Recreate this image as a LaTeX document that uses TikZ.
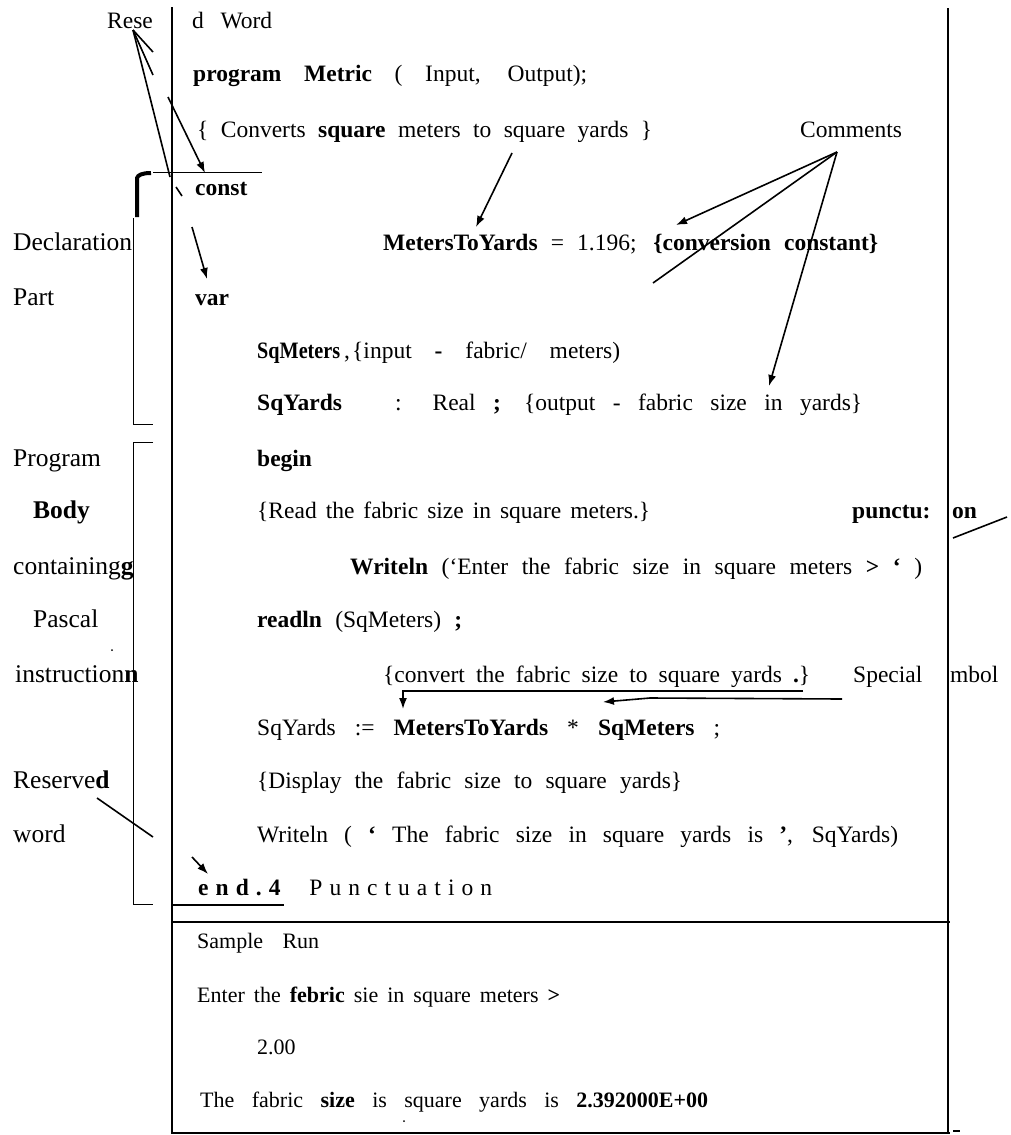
\documentclass[tikz,border=0pt]{standalone}
\usepackage{fontspec}
\setmainfont{Liberation Serif}
\usepackage{tikz}
\usetikzlibrary{positioning, calc, arrows.meta}
\newcommand{\spread}[2]{\makebox[#1pt][s]{#2}}
\tikzstyle{codeline} = [anchor=base west, inner sep=0pt, font=\fontsize{23.5}{28}\selectfont]
\tikzstyle{runline} = [anchor=base west, inner sep=0pt, font=\fontsize{22}{26}\selectfont]
\tikzstyle{sidelabel} = [anchor=base west, inner sep=0pt, font=\fontsize{25.5}{30}\selectfont]
\tikzstyle{arrow} = [line width=1.6pt, -{Latex[length=11pt, width=8pt]}]
\tikzstyle{pointer} = [line width=1.6pt]
\tikzstyle{frameline} = [line width=2.6pt]
\tikzstyle{ruleline} = [line width=1.6pt]
\tikzstyle{bracketline} = [line width=0.8pt]
\begin{document}
\begin{tikzpicture}[x=1pt, y=-1pt]
    \useasboundingbox (0,0) rectangle (1010,1135);

    % frame of the listing
    \draw[frameline] (172,7) -- (172,1134);
    \draw[frameline] (948,8) -- (948,1134);
    \draw[ruleline] (172,905) -- (284,905);
    \draw[ruleline] (172,922) -- (950,922);
    \draw[ruleline] (172,1133) -- (950,1133);
    \draw[line width=2.5pt] (953,1131) -- (960,1131);

    % brackets on the left
    \draw[line width=1pt] (153,172) -- (262,172);
    \draw[line width=4pt] (137,217) -- (137,178) .. controls (138,175) and (142,173) .. (151,173);
    \draw[bracketline] (133,218) -- (133,424) -- (153,424);
    \draw[bracketline] (153,442) -- (133,442) -- (133,904) -- (153,904);

    % left labels
    \node[codeline] (rese) at (107,28) {Rese};
    \node[sidelabel] (declaration) at (13,250) {Declaration};
    \node[sidelabel] (part) at (13,305) {Part};
    \node[sidelabel] (program_label) at (13,466) {Program};
    \node[sidelabel] (body_label) at (33,518) {\textbf{Body}};
    \node[sidelabel] (containing_label) at (13,574) {containing\textbf{g}};
    \node[sidelabel] (pascal_label) at (33,627) {Pascal};
    \node[sidelabel] (instruction_label) at (15,682) {instruction\textbf{n}};
    \node[sidelabel] (reserved_label) at (13,788) {Reserve\textbf{d}};
    \node[sidelabel] (word_label) at (13,842) {word};
    \fill (112,650) circle (1pt);

    % program text
    \node[codeline] (word_title) at (192,28) {\spread{80}{d Word}};
    \node[codeline] (program_line) at (193,81) {\spread{394}{\textbf{program} \textbf{Metric} ( Input, Output);}};
    \node[codeline] (converts_line) at (197,137) {\spread{455}{\{ Converts \textbf{square} meters to square yards \}}};
    \node[codeline] (const_word) at (195,195) {\textbf{const}};
    \node[codeline] (constant_line) at (383,250) {\spread{495}{\textbf{MetersToYards} = 1.196; \textbf{\{conversion constant\}}}};
    \node[codeline] (var_word) at (195,305) {\textbf{var}};
    \node[codeline] (sqmeters_decl) at (257,358) {\scalebox{0.86}[1]{\textbf{SqMeters}}\,,};
    \node[codeline] (input_comment) at (352,358) {\spread{268}{\{input \textbf{-} fabric/ meters)}};
    \node[codeline] (sqyards_decl) at (257,410) {\textbf{SqYards}};
    \node[codeline] (output_comment) at (395,410) {\spread{467}{: Real \textbf{;} \{output - fabric size in yards\}}};
    \node[codeline] (begin_word) at (257,466) {\textbf{begin}};
    \node[codeline] (read_comment) at (257,518) {\spread{393}{\{Read the fabric size in square meters.\}}};
    \node[codeline] (prompt_line) at (350,574) {\spread{572}{\textbf{Writeln} (`Enter the fabric size in square meters \textbf{>} \textbf{`} )}};
    \node[codeline] (readln_line) at (257,627) {\spread{205}{\textbf{readln} (SqMeters) \textbf{;}}};
    \node[codeline] (convert_comment) at (383,682) {\spread{427}{\{convert the fabric size to square yards \textbf{.}\}}};
    \node[codeline] (assign_line) at (257,735) {\spread{463}{SqYards := \textbf{MetersToYards} * \textbf{SqMeters} ;}};
    \node[codeline] (display_comment) at (257,788) {\spread{425}{\{Display the fabric size to square yards\}}};
    \node[codeline] (result_line) at (257,842) {\spread{641}{Writeln ( \textbf{`} The fabric size in square yards is \textbf{'}, SqYards)}};
    \node[codeline] (end_line) at (198,895) {\spread{294}{\addfontfeature{LetterSpace=30}\textbf{end.4} Punctuation}};

    % labels on the right
    \node[codeline] (comments) at (800,137) {Comments};
    \node[codeline] (punct_left) at (852,518) {\textbf{punctu:}};
    \node[codeline] (punct_right) at (952,518) {\textbf{on}};
    \node[codeline] (special_left) at (853,682) {Special};
    \node[codeline] (special_right) at (950,682) {mbol};

    % sample run
    \node[runline] (sample_run) at (197,948) {\spread{122}{Sample Run}};
    \node[runline] (enter_prompt) at (197,1002) {\spread{363}{Enter the \textbf{febric} sie in square meters \textbf{>}}};
    \node[runline] (input_value) at (257,1054) {2.00};
    \node[runline] (result_value) at (200,1107) {\spread{508}{The fabric \textbf{size} is square yards is \textbf{2.392000E+00}}};
    \fill (404,1121) circle (1pt);

    % arrow ends
    \coordinate (rese_root) at (133,30);
    \coordinate (rese_cut_a) at (153,52);
    \coordinate (rese_cut_b) at (153,75);
    \coordinate (rese_cut_c) at (170,177);
    \coordinate (const_tail) at (168,97);
    \coordinate (const_tip) at (205,173);
    \coordinate (const_stub_a) at (176,187);
    \coordinate (const_stub_b) at (182,196);
    \coordinate (var_tail) at (192,227);
    \coordinate (var_tip) at (207,279);
    \coordinate (reserved_tail) at (97,798);
    \coordinate (reserved_cut) at (153,837);
    \coordinate (end_tail) at (192,857);
    \coordinate (end_tip) at (208,874);
    \coordinate (converts_tail) at (512,153);
    \coordinate (converts_tip) at (476,227);
    \coordinate (comments_root) at (837,152);
    \coordinate (comments_tip_a) at (676,225);
    \coordinate (comments_cut) at (653,283);
    \coordinate (comments_tip_b) at (769,386);
    \coordinate (punct_a) at (953,538);
    \coordinate (punct_b) at (1007,517);
    \coordinate (special_a) at (803,691);
    \coordinate (special_a_corner) at (403,691);
    \coordinate (special_a_tip) at (403,709);
    \coordinate (special_b) at (842,699);
    \coordinate (special_b_bend) at (650,698);
    \coordinate (special_b_tip) at (603,702);

    % reserved word arrows
    \draw[pointer] (rese_root) -- (rese_cut_a);
    \draw[pointer] (rese_root) -- (rese_cut_b);
    \draw[pointer] (rese_root) -- (rese_cut_c);
    \draw[arrow] (const_tail) -- (const_tip);
    \draw[pointer] (const_stub_a) -- (const_stub_b);
    \draw[arrow] (var_tail) -- (var_tip);
    \draw[pointer] (reserved_tail) -- (reserved_cut);
    \draw[arrow] (end_tail) -- (end_tip);

    % comment arrows
    \draw[arrow] (converts_tail) -- (converts_tip);
    \draw[arrow] (comments_root) -- (comments_tip_a);
    \draw[pointer] (comments_root) -- (comments_cut);
    \draw[arrow] (comments_root) -- (comments_tip_b);

    % punctuation and special symbols
    \draw[pointer] (punct_a) -- (punct_b);
    \draw[arrow] (special_a) -- (special_a_corner) -- (special_a_tip);
    \draw[arrow] (special_b) -- (special_b_bend) -- (special_b_tip);
\end{tikzpicture}
\end{document}
